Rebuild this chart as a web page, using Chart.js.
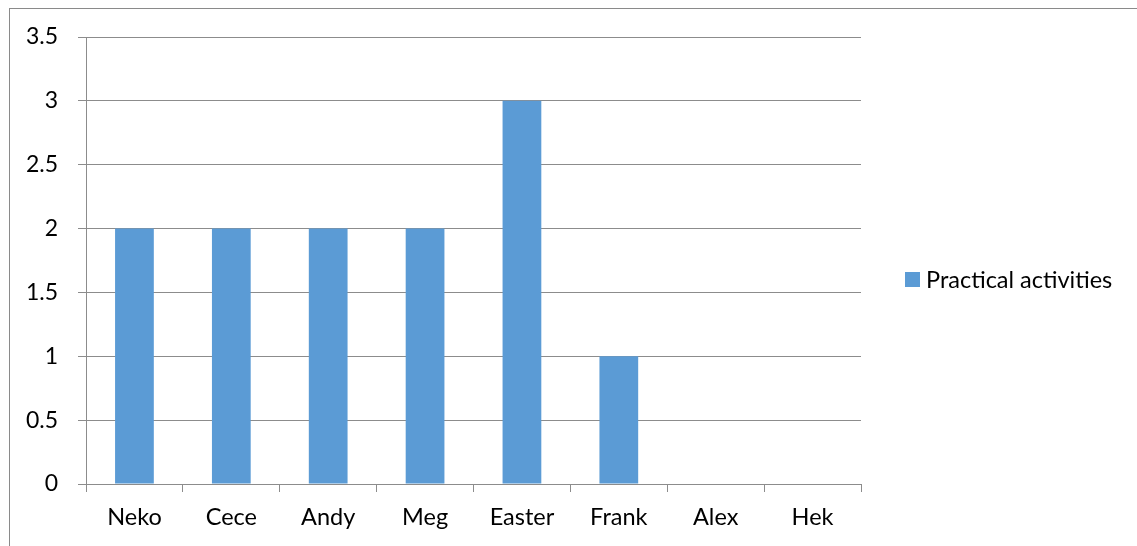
<!DOCTYPE html>
<html>
<head>
<meta charset="utf-8">
<script src="https://cdn.jsdelivr.net/npm/chart.js@4/dist/chart.umd.min.js"></script>
<style>
  html, body { margin: 0; padding: 0; background: #fff; }
  #wrap { width: 1137px; height: 546px; }
</style>
</head>
<body>
<div id="wrap"><canvas id="c" width="1137" height="546"></canvas></div>
<script>
// Practical activities per person
const categories = ['Neko', 'Cece', 'Andy', 'Meg', 'Easter', 'Frank', 'Alex', 'Hek'];
const seriesName = 'Practical activities';
const seriesValues = [2, 2, 2, 2, 3, 1, 0, 0];
const yTickValues = [0, 0.5, 1, 1.5, 2, 2.5, 3, 3.5];

const FONT = 'Lato, "Open Sans", "DejaVu Sans", sans-serif';
const TEXT = '#000000';
const LINE = '#8c8c8c';
const BAR = '#5b9bd5';

// Thin frame around the whole chart object
const framePlugin = {
  id: 'frame',
  beforeDraw(chart) {
    const ctx = chart.ctx;
    ctx.save();
    ctx.fillStyle = '#ffffff';
    ctx.fillRect(0, 0, chart.width, chart.height);
    ctx.strokeStyle = '#8a8a8a';
    ctx.lineWidth = 1;
    ctx.strokeRect(9.5, 8.5, chart.width + 10, chart.height + 10);
    ctx.restore();
  }
};

// Legend drawn to the right of the plot area
const sideLegend = {
  id: 'sideLegend',
  afterDraw(chart) {
    const ctx = chart.ctx;
    const area = chart.chartArea;
    const ds = chart.data.datasets[0];
    const x = area.right + 44;
    const y = 279.5;
    ctx.save();
    ctx.fillStyle = ds.backgroundColor;
    ctx.fillRect(x, y - 7.5, 15, 15);
    ctx.fillStyle = TEXT;
    ctx.font = '23.5px ' + FONT;
    ctx.textBaseline = 'middle';
    ctx.textAlign = 'left';
    ctx.fillText(ds.label, x + 21, y + 1);
    ctx.restore();
  }
};

new Chart(document.getElementById('c'), {
  type: 'bar',
  data: {
    labels: categories,
    datasets: [{
      label: seriesName,
      data: seriesValues,
      backgroundColor: BAR,
      borderWidth: 0,
      categoryPercentage: 1,
      barPercentage: 0.4
    }]
  },
  options: {
    responsive: false,
    animation: false,
    devicePixelRatio: 1,
    layout: { padding: { left: 0, top: 37, right: 276, bottom: 0 } },
    plugins: {
      legend: { display: false },
      tooltip: { enabled: false }
    },
    scales: {
      x: {
        offset: true,
        afterFit(scale) { scale.height = 62; },
        grid: {
          offset: true,
          drawOnChartArea: false,
          drawTicks: true,
          tickLength: 8,
          color: LINE,
          lineWidth: 1
        },
        border: { display: true, color: LINE, width: 1 },
        ticks: {
          color: TEXT,
          font: { family: FONT, size: 23.5 },
          padding: 11,
          maxRotation: 0,
          autoSkip: false
        }
      },
      y: {
        min: 0,
        max: 3.5,
        afterFit(scale) { scale.width = 86; },
        afterBuildTicks(scale) {
          scale.ticks = yTickValues.map(v => ({ value: v }));
        },
        grid: {
          color: LINE,
          lineWidth: 1,
          drawTicks: true,
          tickLength: 8
        },
        border: { display: true, color: LINE, width: 1 },
        ticks: {
          color: TEXT,
          font: { family: FONT, size: 23 },
          padding: 20,
          callback: v => String(v)
        }
      }
    }
  },
  plugins: [framePlugin, sideLegend]
});
</script>
</body>
</html>
